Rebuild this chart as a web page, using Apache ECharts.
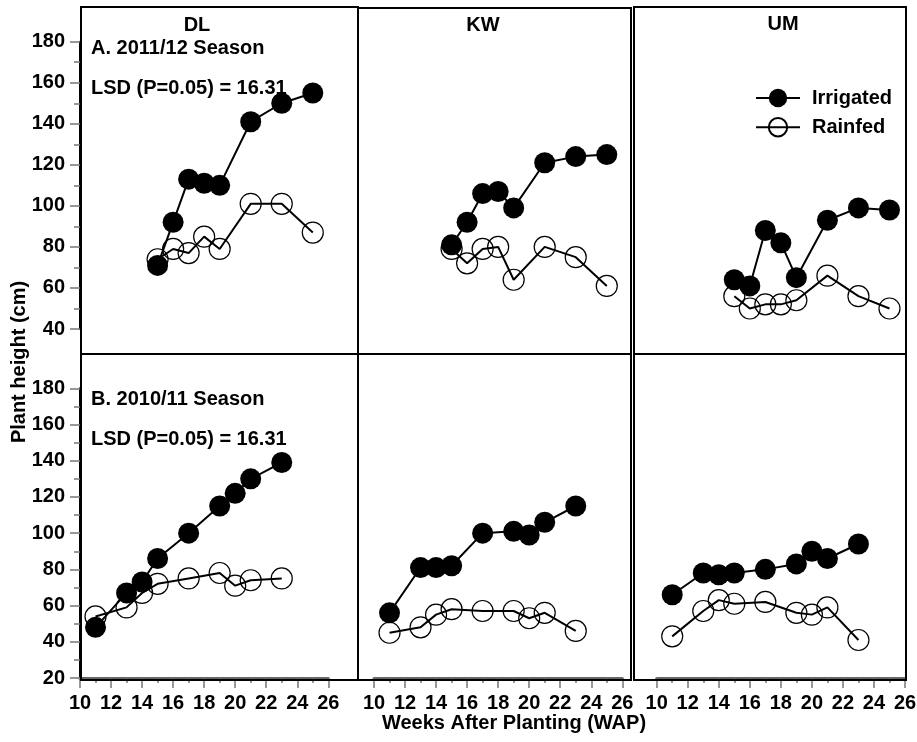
<!DOCTYPE html>
<html>
<head>
<meta charset="utf-8">
<script src="https://cdn.jsdelivr.net/npm/echarts@6/dist/echarts.min.js"></script>
<style>html,body{margin:0;padding:0;background:#fff;}#c{width:917px;height:742px;}</style>
</head>
<body>
<div id="c"></div>
<script>
// ---- data ----
const weeksA = [15, 16, 17, 18, 19, 21, 23, 25];
const weeksB = [11, 13, 14, 15, 17, 19, 20, 21, 23];
const dlIrrA  = [71, 92, 113, 111, 110, 141, 150, 155];
const dlRainA = [74, 79, 77, 85, 79, 101, 101, 87];
const kwIrrA  = [81, 92, 106, 107, 99, 121, 124, 125];
const kwRainA = [79, 72, 79, 80, 64, 80, 75, 61];
const umIrrA  = [64, 61, 88, 82, 65, 93, 99, 98];
const umRainA = [56, 50, 52, 52, 54, 66, 56, 50];
const dlIrrB  = [48, 67, 73, 86, 100, 115, 122, 130, 139];
const dlRainB = [54, 59, 67, 72, 75, 78, 71, 74, 75];
const kwIrrB  = [56, 81, 81, 82, 100, 101, 99, 106, 115];
const kwRainB = [45, 48, 55, 58, 57, 57, 53, 56, 46];
const umIrrB  = [66, 78, 77, 78, 80, 83, 90, 86, 94];
const umRainB = [43, 57, 63, 61, 62, 56, 55, 59, 41];
const sites = ['DL', 'KW', 'UM'];
const seasonLabels = ['A. 2011/12 Season', 'B. 2010/11 Season'];
const lsdLabel = 'LSD (P=0.05) = 16.31';
const xTitle = 'Weeks After Planting (WAP)';
const yTitle = 'Plant height (cm)';
const seriesNames = ['Irrigated', 'Rainfed'];

const FONT = '"Liberation Sans", Arial, Helvetica, sans-serif';
const fs = 20;

const colLeft = [80, 374, 656.7];
const colWidth = 248.3;
const rows = [
  {top: 41.7, height: 287.3, min: 40, max: 180},
  {top: 388.3, height: 289.7, min: 20, max: 180}
];

const panels = [
  [[dlIrrA, dlRainA], [kwIrrA, kwRainA], [umIrrA, umRainA]],
  [[dlIrrB, dlRainB], [kwIrrB, kwRainB], [umIrrB, umRainB]]
];
const rowWeeks = [weeksA, weeksB];

const grid = [], xAxis = [], yAxis = [], series = [];
let gi = 0;
for (let r = 0; r < 2; r++) {
  for (let c = 0; c < 3; c++) {
    grid.push({left: colLeft[c], top: rows[r].top, width: colWidth, height: rows[r].height,
      containLabel: false, outerBoundsMode: 'none'});
    const showX = r === 1;
    xAxis.push({
      type: 'value', gridIndex: gi, min: 10, max: 26, interval: 2,
      show: showX,
      axisLine: {show: true, onZero: false, lineStyle: {color: '#666', width: 3}},
      axisTick: {show: true, length: 10, lineStyle: {color: '#777', width: 1.5}},
      minorTick: {show: true, splitNumber: 2, length: 5, lineStyle: {color: '#777', width: 1.5}},
      axisLabel: {show: true, margin: 15, color: '#000', fontFamily: FONT, fontWeight: 'bold', fontSize: fs},
      splitLine: {show: false}, minorSplitLine: {show: false}
    });
    const showY = c === 0;
    yAxis.push({
      type: 'value', gridIndex: gi, min: rows[r].min, max: rows[r].max, interval: 20,
      show: showY,
      axisLine: {show: true, onZero: false, lineStyle: {color: '#000', width: 2}},
      axisTick: {show: true, length: 10, lineStyle: {color: '#777', width: 1.5}},
      minorTick: {show: true, splitNumber: 2, length: 6, lineStyle: {color: '#777', width: 1.5}},
      axisLabel: {show: true, margin: 15, color: '#000', fontFamily: FONT, fontWeight: 'bold', fontSize: fs},
      splitLine: {show: false}, minorSplitLine: {show: false}
    });
    const [irr, rain] = panels[r][c];
    const wk = rowWeeks[r];
    series.push({
      name: seriesNames[1], type: 'line', xAxisIndex: gi, yAxisIndex: gi,
      data: wk.map((w, i) => [w, rain[i]]),
      symbol: 'circle', symbolSize: 21, z: 2,
      lineStyle: {color: '#000', width: 2},
      itemStyle: {color: 'rgba(255,255,255,0)', borderColor: '#000', borderWidth: 1.2},
      emphasis: {disabled: true}, animation: false
    });
    series.push({
      name: seriesNames[0], type: 'line', xAxisIndex: gi, yAxisIndex: gi,
      data: wk.map((w, i) => [w, irr[i]]),
      symbol: 'circle', symbolSize: 21, z: 3,
      lineStyle: {color: '#000', width: 2},
      itemStyle: {color: '#000', borderColor: '#000', borderWidth: 0},
      emphasis: {disabled: true}, animation: false
    });
    gi++;
  }
}

const txt = (text, x, y, align, opts) => Object.assign({
  type: 'text', x: x, y: y, z: 20,
  style: {text: text, font: 'bold ' + fs + 'px ' + FONT, fill: '#000',
    textAlign: align || 'left', textVerticalAlign: 'middle'}
}, opts || {});
const frame = (x, y, w, h) => ({type: 'rect', z: 15, shape: {x: x, y: y, width: w, height: h},
  style: {fill: 'none', stroke: '#000', lineWidth: 2}});

const graphic = [
  frame(81, 7, 277, 347), frame(358, 8, 273, 346), frame(634, 7, 272, 347),
  frame(81, 354, 277, 326), frame(358, 354, 273, 326), frame(634, 354, 272, 326),
  txt(sites[0], 197, 25, 'center'), txt(sites[1], 483, 25, 'center'), txt(sites[2], 783, 24, 'center'),
  txt(seasonLabels[0], 91, 48), txt(lsdLabel, 91, 88),
  txt(seasonLabels[1], 91, 399), txt(lsdLabel, 91, 439.5),
  txt(xTitle, 514, 723, 'center'),
  txt(yTitle, 19, 362, 'center', {rotation: Math.PI / 2})
];

const chart = echarts.init(document.getElementById('c'), null, {renderer: 'canvas'});
chart.setOption({
  backgroundColor: '#fff',
  animation: false,
  grid: grid, xAxis: xAxis, yAxis: yAxis, series: series,
  legend: {
    data: seriesNames, orient: 'vertical', left: 755, top: 88, padding: 0,
    itemWidth: 44, itemHeight: 23, itemGap: 9, selectedMode: false,
    textStyle: {fontFamily: FONT, fontWeight: 'bold', fontSize: fs, color: '#000', padding: [0, 0, 0, 7]}
  },
  graphic: graphic
});
</script>
</body>
</html>
